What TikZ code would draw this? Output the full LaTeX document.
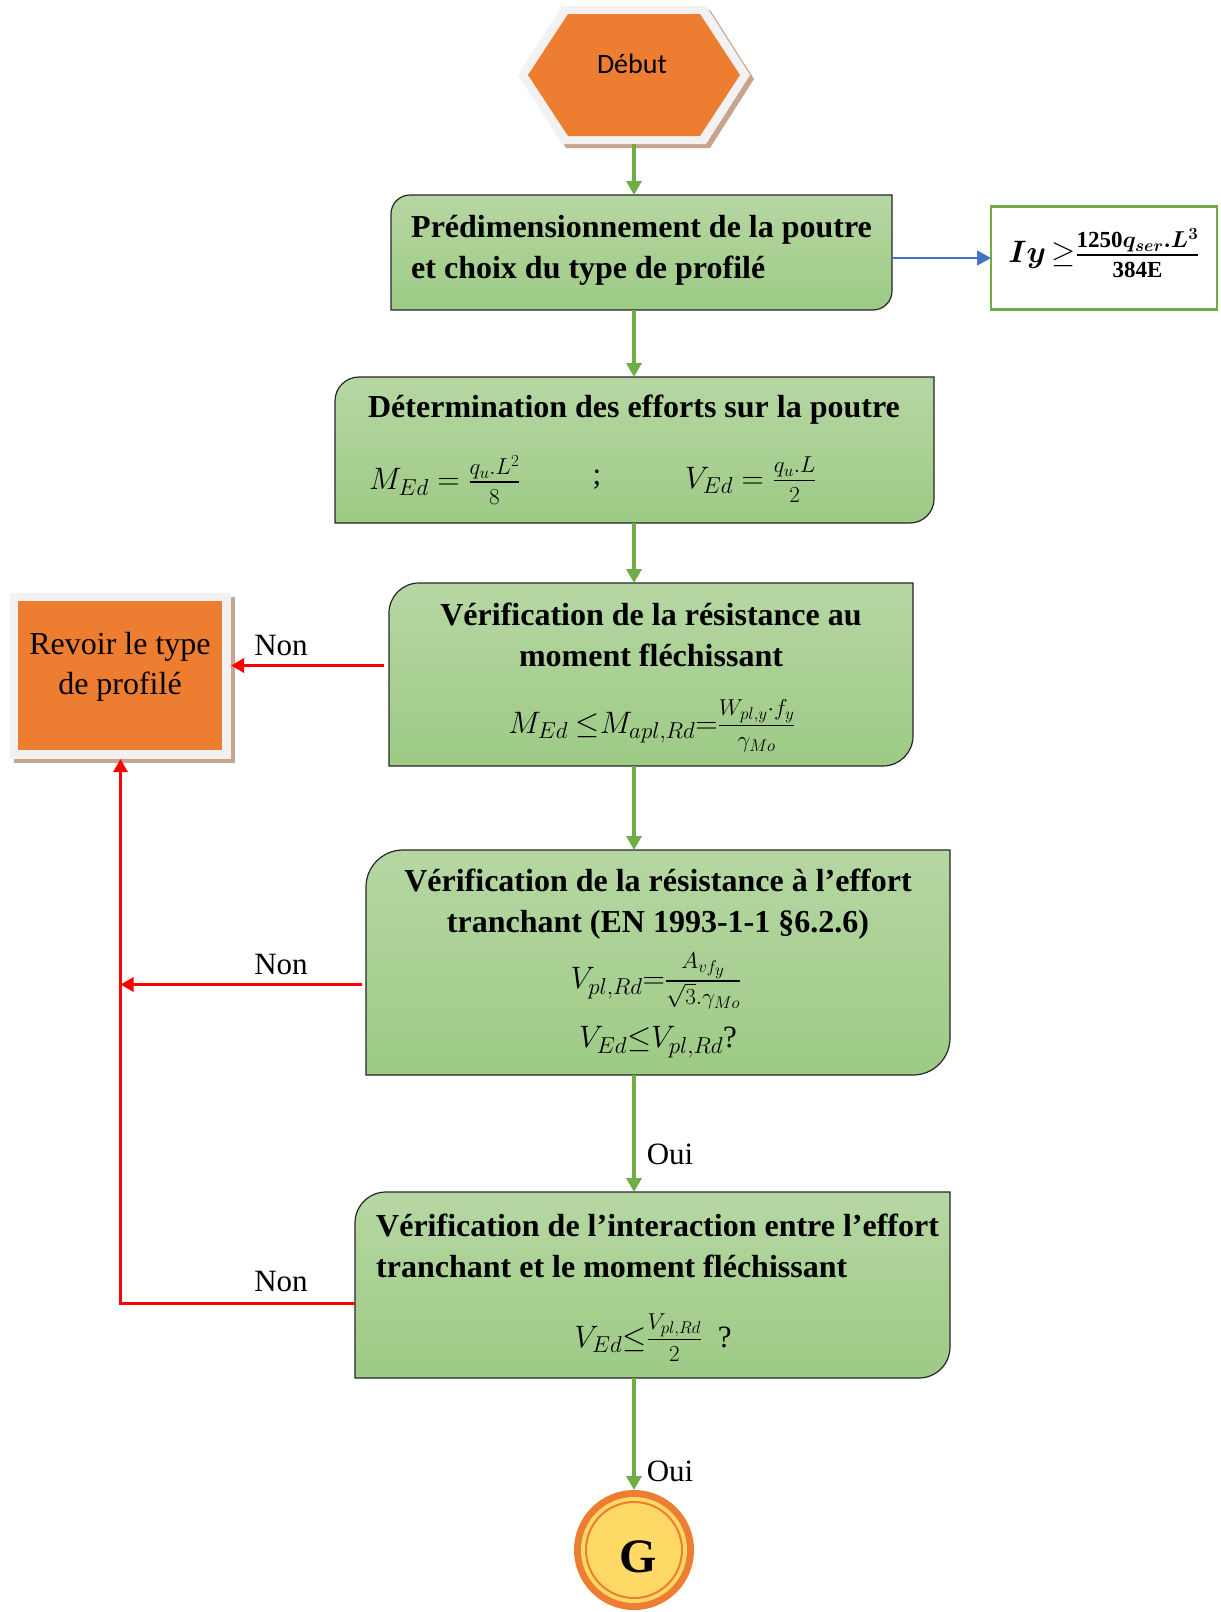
\RequirePackage{fix-cm}
\documentclass[tikz,border=0pt]{standalone}
\usepackage{amsmath}
\usepackage{bm}
\usepackage{fontspec}
\setmainfont{Liberation Serif}
\newfontfamily\calib{Carlito}
\usetikzlibrary{arrows.meta,calc}
\DeclareMathSizes{31}{31}{23}{17}
\newcommand\myfrac[2]{\genfrac{}{}{1.6pt}{}{#1\rule[-5pt]{0pt}{5pt}}{\rule{0pt}{20pt}#2}}

\definecolor{gtop}{HTML}{B6D7A3}
\definecolor{gbot}{HTML}{9DCA85}
\definecolor{garrow}{HTML}{70AD47}
\definecolor{oran}{HTML}{ED7D31}
\definecolor{frame}{HTML}{F2F2F2}
\definecolor{shad}{HTML}{C9A48C}
\definecolor{yel}{HTML}{FFD966}
\definecolor{blu}{HTML}{4472C4}

\tikzset{
 ttl/.style={font=\fontsize{32}{41}\selectfont\bfseries, inner sep=0pt},
 frm/.style={font=\fontsize{31}{36}\selectfont, inner sep=0pt},
 lbl/.style={font=\fontsize{31}{36}\selectfont, inner sep=0pt},
 garr/.style={draw=garrow, line width=3.5pt, -{Triangle[length=14pt,width=15pt]}},
 rarr/.style={draw=red, line width=3pt, -{Triangle[length=13pt,width=14pt]}},
 barr/.style={draw=blu, line width=1.3pt, -{Triangle[length=14pt,width=15pt]}},
 gline/.style={draw=black!85, line width=1.2pt, top color=gtop, bottom color=gbot},
 anch/.style={inner sep=0pt, outer sep=0pt},
}

\newcommand\gbox[6]{%
 \pgfmathsetmacro\bw{#4-#2}\pgfmathsetmacro\bh{#5-#3}%
 \pgfmathsetmacro\bx{(#2+#4)/2}\pgfmathsetmacro\by{-(#3+#5)/2}%
 \path[gline] (#2,-#5) -- (#2,-#3-#6) arc[start angle=180,end angle=90,radius=#6pt]
   -- (#4,-#3) -- (#4,-#5+#6) arc[start angle=0,end angle=-90,radius=#6pt] -- cycle;
 \node[anch,minimum width=\bw pt,minimum height=\bh pt] (#1) at (\bx,\by) {};%
}

\begin{document}
\begin{tikzpicture}[x=1pt,y=1pt]
\useasboundingbox (0,0) rectangle (1221,-1612);

% start hexagon
\fill[shad] (522,-79) -- (566,-10) -- (710,-10) -- (754,-79) -- (710,-148) -- (566,-148) -- cycle;
\fill[frame] (518,-75) -- (562,-6) -- (706,-6) -- (750,-75) -- (706,-144) -- (562,-144) -- cycle;
\fill[oran] (528,-75) -- (568,-14) -- (700,-14) -- (740,-75) -- (700,-136) -- (568,-136) -- cycle;
\node[anch, minimum width=232pt, minimum height=138pt] (start) at (634,-75) {};
\node[anch, font=\calib\fontsize{28}{34}\selectfont] (starttxt) at (632,-64) {Début};

% Revoir box
\fill[shad] (14,-597) rectangle (235,-763);
\fill[frame] (10,-593) rectangle (231,-759);
\fill[oran] (18,-601) rectangle (222,-750);
\node[anch, minimum width=221pt, minimum height=166pt] (rev) at (120.5,-676) {};
\node[anch, font=\fontsize{32}{40}\selectfont, align=center] (revtxt) at (120,-667) {Revoir le type\\de profilé};

% green boxes
\gbox{b1}{391}{195}{892}{310}{19}
\node[ttl, align=left, anchor=west] (t1) at (411,-250) {Prédimensionnement de la poutre\\et choix du type de profilé};

\gbox{b2}{335}{377}{934}{523}{24}
\node[ttl] (t2) at (634,-410) {Détermination des efforts sur la poutre};
\node[frm, anchor=west] (f2a) at (369,-480) {$M_{Ed}=\myfrac{q_u.L^2}{8}$};
\node[frm] (f2b) at (597,-480) {;};
\node[frm, anchor=west] (f2c) at (685,-480) {$V_{Ed}=\myfrac{q_u.L}{2}$};

\gbox{b3}{389}{583}{913}{766}{30}
\node[ttl, align=center] (t3) at (651,-635) {Vérification de la résistance au\\moment fléchissant};
\node[frm] (f3) at (652,-726) {$M_{Ed}\ {\leq}M_{apl,Rd}{=}\myfrac{W_{pl,y}\cdot f_y}{\gamma_{Mo}}$};

\gbox{b4}{366}{850}{950}{1075}{37}
\node[ttl, align=center] (t4) at (658,-904) {Vérification de la résistance à l’effort\\tranchant (EN 1993-1-1 §6.2.6)};
\node[frm] (f4a) at (656,-981) {$V_{pl,Rd}{=}\myfrac{A_{vf_y}\rule[-8pt]{0pt}{8pt}}{\sqrt{3}.\gamma_{Mo}}$};
\node[frm] (f4b) at (658,-1042) {$V_{Ed}{\leq}V_{pl,Rd}$?};

\gbox{b5}{355}{1192}{950}{1378}{31}
\node[ttl, align=left, anchor=west] (t5) at (376,-1246) {Vérification de l’interaction entre l’effort\\tranchant et le moment fléchissant};
\node[frm] (f5) at (653,-1338) {$V_{Ed}{\leq}\myfrac{V_{pl,Rd}}{2}$\ \ ?};

% Iy box
\node[anch, draw=garrow, line width=2.5pt, fill=white, minimum width=226pt, minimum height=103pt] (iy) at (1104,-258) {};
\node[frm] (iytxt) at (1104,-253) {$\boldsymbol{Iy}\,{\geq}\myfrac{\mathbf{1250}\boldsymbol{q_{ser}.L^{3}}}{\mathbf{384E}}$};

% end circle
\node[anch, circle, fill=oran, minimum size=120pt] (G) at (634,-1550) {};
\fill[yel] (G.center) circle[radius=53pt];
\draw[oran, line width=2pt] (G.center) circle[radius=48pt];
\node[anch, font=\fontsize{48}{56}\selectfont\bfseries] (Gtxt) at (638,-1557) {G};

% connectors
\draw[garr] (start.south) -- (b1.north -| start.south);
\draw[garr] (b1.south -| start.south) -- (b2.north -| start.south);
\draw[garr] (b2.south -| start.south) -- (b3.north -| start.south);
\draw[garr] (b3.south -| start.south) -- (b4.north -| start.south);
\draw[garr] (b4.south -| start.south) -- (b5.north -| start.south);
\draw[garr] (b5.south -| start.south) -- (G.north);
\draw[barr] (iy.west -| b1.east) -- (iy.west);

\draw[rarr] ([xshift=-5pt,yshift=9pt]b3.west) -- ([yshift=9pt]b3.west -| rev.east);
\draw[rarr] ([xshift=-4pt,yshift=-22pt]b4.west) -- ([yshift=-22pt]b4.west -| rev.south);
\draw[rarr] ([yshift=-18pt]b5.west) -| (rev.south);

% labels
\node[lbl] (n1) at (281,-645) {Non};
\node[lbl] (n2) at (281,-964) {Non};
\node[lbl] (n3) at (281,-1281) {Non};
\node[lbl] (o1) at (670,-1154) {Oui};
\node[lbl] (o2) at (670,-1471) {Oui};
\end{tikzpicture}
\end{document}
